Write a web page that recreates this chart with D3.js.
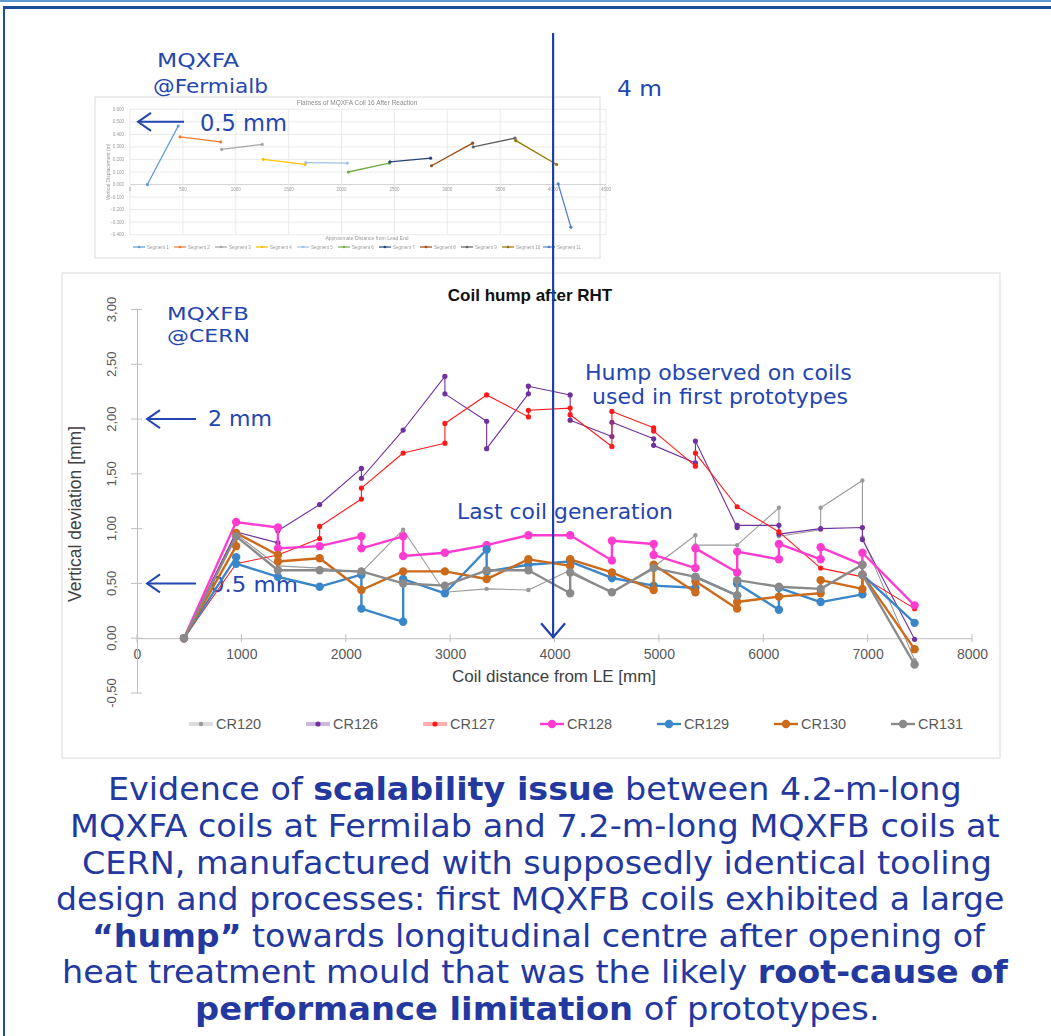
<!DOCTYPE html>
<html>
<head>
<meta charset="utf-8">
<script src="https://cdn.jsdelivr.net/npm/d3@7"></script>
<style>
  body { margin: 0; background: #fff; }
  svg { display: block; }
</style>
</head>
<body>
<svg width="1051" height="1036"></svg>
<script>
// MQXFB coils (CERN) - [distance mm, vertical deviation mm]
const seriesNames = ["CR120", "CR126", "CR127", "CR128", "CR129", "CR130", "CR131"];
const cr120 = [[450,0],[950,0.95],[1350,0.66],[1750,0.64],[2150,0.60],[2550,0.99],[2950,0.42],[3350,0.45],[3750,0.44],[4150,0.62],[4550,0.41],[4950,0.65],[5350,0.94],[5350,0.85],[5750,0.85],[6150,1.19],[6150,0.93],[6550,0.99],[6550,1.19],[6950,1.44],[6950,0.92],[7450,-0.20]];
const cr126 = [[450,0],[950,0.97],[1350,0.87],[1350,0.98],[1750,1.22],[2150,1.55],[2150,1.46],[2550,1.90],[2950,2.39],[2950,2.23],[3350,1.98],[3350,1.73],[3750,2.23],[3750,2.30],[4150,2.22],[4150,1.99],[4550,1.84],[4550,1.97],[4950,1.82],[4950,1.76],[5350,1.60],[5350,1.80],[5750,1.01],[5750,1.03],[6150,1.03],[6150,0.95],[6550,1.00],[6950,1.01],[6950,0.90],[7450,-0.01]];
const cr127 = [[450,0],[950,0.68],[1350,0.76],[1750,0.91],[1750,1.02],[2150,1.27],[2150,1.37],[2550,1.69],[2950,1.78],[2950,1.96],[3350,2.22],[3750,2.02],[3750,2.08],[4150,2.10],[4150,2.04],[4550,1.75],[4550,2.07],[4950,1.92],[4950,1.89],[5350,1.57],[5350,1.69],[5750,1.20],[6150,0.97],[6550,0.64],[6950,0.56],[7450,0.27]];
const cr128 = [[450,0],[950,1.06],[1350,1.01],[1350,0.82],[1750,0.84],[2150,0.93],[2150,0.82],[2550,0.93],[2550,0.75],[2950,0.78],[3350,0.85],[3750,0.94],[4150,0.94],[4550,0.71],[4550,0.89],[4950,0.86],[4950,0.76],[5350,0.64],[5350,0.82],[5750,0.60],[5750,0.79],[6150,0.72],[6150,0.86],[6550,0.72],[6550,0.83],[6950,0.67],[6950,0.78],[7450,0.30]];
const cr129 = [[450,0],[950,0.74],[950,0.68],[1350,0.56],[1750,0.47],[2150,0.58],[2150,0.27],[2550,0.15],[2550,0.54],[2950,0.41],[3350,0.81],[3350,0.61],[3750,0.67],[4150,0.70],[4550,0.55],[4950,0.48],[5350,0.46],[5350,0.56],[5750,0.39],[5750,0.50],[6150,0.26],[6150,0.46],[6550,0.33],[6950,0.40],[6950,0.58],[7450,0.14]];
const cr130 = [[450,0],[950,0.84],[950,0.96],[1350,0.76],[1350,0.70],[1750,0.73],[2150,0.44],[2550,0.61],[2950,0.61],[3350,0.54],[3750,0.72],[4150,0.66],[4150,0.72],[4550,0.60],[4950,0.44],[4950,0.67],[5350,0.42],[5350,0.52],[5750,0.27],[5750,0.33],[6150,0.38],[6550,0.41],[6550,0.53],[6950,0.45],[6950,0.58],[7450,-0.10]];
const cr131 = [[450,0],[950,0.93],[1350,0.62],[1750,0.62],[2150,0.61],[2550,0.50],[2950,0.48],[3350,0.62],[3750,0.62],[4150,0.41],[4150,0.60],[4550,0.42],[4950,0.64],[5350,0.56],[5750,0.39],[5750,0.53],[6150,0.47],[6550,0.45],[6950,0.67],[6950,0.58],[7450,-0.24]];
const xTicks = [0, 1000, 2000, 3000, 4000, 5000, 6000, 7000, 8000];
const yTicks = [-0.5, 0, 0.5, 1, 1.5, 2, 2.5, 3];

// MQXFA inset (Fermilab) - one short segment per measurement section
const faNames = ["Segment 1","Segment 2","Segment 3","Segment 4","Segment 5","Segment 6","Segment 7","Segment 8","Segment 9","Segment 10","Segment 11"];
const faSegments = [
  [[164,0],[456,0.467]],
  [[473,0.38],[857,0.34]],
  [[866,0.28],[1250,0.32]],
  [[1260,0.20],[1654,0.16]],
  [[1663,0.175],[2054,0.17]],
  [[2064,0.10],[2451,0.17]],
  [[2457,0.18],[2842,0.21]],
  [[2851,0.15],[3239,0.33]],
  [[3245,0.30],[3639,0.37]],
  [[3648,0.35],[4033,0.16]],
  [[4048,0.005],[4168,-0.34]]
];
const faXTicks = [0, 500, 1000, 1500, 2000, 2500, 3000, 3500, 4000, 4500];
const faYTicks = [-0.4, -0.3, -0.2, -0.1, 0, 0.1, 0.2, 0.3, 0.4, 0.5, 0.6];

// styles
const colors = ["#9a9a9a", "#7030a0", "#ff1a1a", "#ff3ccf", "#3a86c8", "#cc6a1c", "#8a8a8a"];
const widths = [1.1, 1.1, 1.1, 2.4, 2.4, 2.4, 2.4];
const radii = [2.2, 2.6, 2.6, 4.2, 4.2, 4.2, 4.2];
const faColors = ["#5b9bd5","#ed7d31","#a5a5a5","#ffc000","#9dc3e6","#70ad47","#264478","#9e480e","#636363","#997300","#4f81c0"];
const blue = "#2446b0";

var svg = d3.select("svg");
var allSeries = [cr120, cr126, cr127, cr128, cr129, cr130, cr131];

// page frame
svg.append("rect").attr("x", 0).attr("y", 0).attr("width", 1051).attr("height", 2).attr("fill", "#5d9bd3");
svg.append("rect").attr("x", 3).attr("y", 6).attr("width", 1048).attr("height", 3).attr("fill", "#1b4f9c");
svg.append("rect").attr("x", 3).attr("y", 6).attr("width", 2).attr("height", 1030).attr("fill", "#1b4f9c");

// stretch a text line to a given width
function fitText(parent, parts, x0, baseline, width, size, color, family) {
    var t = parent.append("text")
        .attr("x", 0).attr("y", 0)
        .attr("font-family", family || "DejaVu Sans")
        .attr("font-size", size)
        .attr("fill", color);
    parts.forEach(function(p) {
        t.append("tspan").text(p[0]).attr("font-weight", p[1] ? "bold" : "normal");
    });
    var w = t.node().getComputedTextLength();
    t.attr("transform", "translate(" + x0 + "," + baseline + ") scale(" + (width / w) + ",1)");
    return t;
}

function arrowLeft(parent, x1, x2, y) {
    parent.append("line").attr("x1", x1).attr("x2", x2).attr("y1", y).attr("y2", y)
        .attr("stroke", blue).attr("stroke-width", 2);
    parent.append("path").attr("d", "M" + (x2 + 13) + "," + (y - 9) + "L" + x2 + "," + y + "L" + (x2 + 13) + "," + (y + 9))
        .attr("fill", "none").attr("stroke", blue).attr("stroke-width", 2);
}

// ---------- inset: MQXFA @ Fermilab ----------
var defs = svg.append("defs");
defs.append("filter").attr("id", "soft").append("feGaussianBlur").attr("stdDeviation", 0.55);

var inset = svg.append("g").attr("filter", "url(#soft)");
inset.append("rect").attr("x", 95).attr("y", 97).attr("width", 505).attr("height", 161)
    .attr("fill", "#fff").attr("stroke", "#dcdcdc");

var fx = d3.scaleLinear().domain([0, 4500]).range([130, 606]);
var fy = d3.scaleLinear().domain([-0.4, 0.6]).range([234.7, 109.3]);

inset.selectAll(".hg").data(faYTicks).enter().append("line")
    .attr("x1", fx(0)).attr("x2", fx(4500))
    .attr("y1", d => fy(d)).attr("y2", d => fy(d))
    .attr("stroke", d => d === 0 ? "#c8c8c8" : "#e6e6e6").attr("stroke-width", 0.8);
inset.selectAll(".vg").data(faXTicks).enter().append("line")
    .attr("x1", d => fx(d)).attr("x2", d => fx(d))
    .attr("y1", fy(0.6)).attr("y2", fy(-0.4))
    .attr("stroke", "#e6e6e6").attr("stroke-width", 0.8);
inset.selectAll(".yl").data(faYTicks).enter().append("text")
    .attr("x", 124).attr("y", d => fy(d) + 1.5)
    .attr("text-anchor", "end").attr("font-family", "Liberation Sans").attr("font-size", 4.5)
    .attr("fill", "#9a9a9a").text(d => d3.format(".3f")(d));
inset.selectAll(".xl").data(faXTicks).enter().append("text")
    .attr("x", d => fx(d)).attr("y", fy(0) + 6)
    .attr("text-anchor", "middle").attr("font-family", "Liberation Sans").attr("font-size", 4.5)
    .attr("fill", "#9a9a9a").text(d => d);
inset.append("text").attr("x", 357).attr("y", 105).attr("text-anchor", "middle")
    .attr("font-family", "Liberation Sans").attr("font-size", 6.5).attr("fill", "#8c8c8c")
    .text("Flatness of MQXFA Coil 16 After Reaction");
inset.append("text").attr("x", 367).attr("y", 240).attr("text-anchor", "middle")
    .attr("font-family", "Liberation Sans").attr("font-size", 5).attr("fill", "#9a9a9a")
    .text("Approximate Distance from Lead End");
inset.append("text").attr("transform", "translate(110,172) rotate(-90)").attr("text-anchor", "middle")
    .attr("font-family", "Liberation Sans").attr("font-size", 5).attr("fill", "#9a9a9a")
    .text("Vertical Displacement (in)");

var faLine = d3.line().x(d => fx(d[0])).y(d => fy(d[1]));
faSegments.forEach(function(seg, i) {
    inset.append("path").attr("d", faLine(seg)).attr("fill", "none")
        .attr("stroke", faColors[i]).attr("stroke-width", 1.3);
    inset.selectAll(null).data(seg).enter().append("circle")
        .attr("cx", d => fx(d[0])).attr("cy", d => fy(d[1])).attr("r", 1.6)
        .attr("fill", faColors[i]);
});
faNames.forEach(function(n, i) {
    var lx = 133 + i * 41;
    inset.append("line").attr("x1", lx).attr("x2", lx + 12).attr("y1", 247).attr("y2", 247)
        .attr("stroke", faColors[i]).attr("stroke-width", 1.2);
    inset.append("circle").attr("cx", lx + 6).attr("cy", 247).attr("r", 1.3).attr("fill", faColors[i]);
    inset.append("text").attr("x", lx + 14).attr("y", 248.5)
        .attr("font-family", "Liberation Sans").attr("font-size", 4.5).attr("fill", "#9a9a9a").text(n);
});

// ---------- main chart: MQXFB @ CERN ----------
svg.append("rect").attr("x", 62).attr("y", 273).attr("width", 938).attr("height", 485)
    .attr("fill", "#fff").attr("stroke", "#d9d9d9");

var x = d3.scaleLinear().domain([0, 8000]).range([137, 972]);
var y = d3.scaleLinear().domain([-0.5, 3]).range([693, 309.5]);

var xAxis = svg.append("g").attr("transform", "translate(0," + y(0) + ")")
    .call(d3.axisBottom(x).tickValues(xTicks).tickSize(0).tickPadding(11).tickFormat(d3.format("d")));
xAxis.select(".domain").attr("stroke", "#bfbfbf");
xAxis.selectAll(".xt").data(xTicks).enter().append("line")
    .attr("x1", d => x(d)).attr("x2", d => x(d)).attr("y1", -4).attr("y2", 4).attr("stroke", "#bfbfbf");
xAxis.selectAll("text").attr("font-family", "Liberation Sans").attr("font-size", 14).attr("fill", "#595959");

var yAxis = svg.append("g").attr("transform", "translate(" + x(0) + ",0)")
    .call(d3.axisLeft(y).tickValues(yTicks).tickSize(0).tickFormat(""));
yAxis.select(".domain").attr("stroke", "#bfbfbf");
yAxis.selectAll(".yt").data(yTicks).enter().append("line")
    .attr("x1", -6).attr("x2", 5).attr("y1", d => y(d)).attr("y2", d => y(d)).attr("stroke", "#bfbfbf");
svg.selectAll(".ylab").data(yTicks).enter().append("text")
    .attr("transform", d => "translate(116," + y(d) + ") rotate(-90)")
    .attr("text-anchor", "middle")
    .attr("font-family", "Liberation Sans").attr("font-size", 13).attr("fill", "#595959")
    .text(d => d3.format(".2f")(d).replace(".", ",").replace("−", "-"));

svg.append("text").attr("x", 554).attr("y", 682).attr("text-anchor", "middle")
    .attr("font-family", "Liberation Sans").attr("font-size", 17).attr("fill", "#404040")
    .text("Coil distance from LE [mm]");
svg.append("text").attr("transform", "translate(81,514) rotate(-90)").attr("text-anchor", "middle")
    .attr("font-family", "Liberation Sans").attr("font-size", 17.5).attr("fill", "#404040")
    .text("Vertical deviation [mm]");
svg.append("text").attr("x", 530).attr("y", 301).attr("text-anchor", "middle")
    .attr("font-family", "Liberation Sans").attr("font-size", 17).attr("font-weight", "bold").attr("fill", "#111")
    .text("Coil hump after RHT");

// annotations that sit under the data
var under = svg.append("g");
fitText(under, [["0.5 mm", 0]], 210, 592, 88, 21, blue);
arrowLeft(under, 196, 147, y(0.5));

var line = d3.line().x(d => x(d[0])).y(d => y(d[1]));
allSeries.forEach(function(s, i) {
    var g = svg.append("g");
    g.append("path").attr("d", line(s)).attr("fill", "none")
        .attr("stroke", colors[i]).attr("stroke-width", widths[i]).attr("stroke-linejoin", "round");
    g.selectAll("circle").data(s).enter().append("circle")
        .attr("cx", d => x(d[0])).attr("cy", d => y(d[1])).attr("r", radii[i])
        .attr("fill", colors[i]);
});

// legend
seriesNames.forEach(function(n, i) {
    var lx = 189 + i * 117;
    var lc = i < 3 ? d3.color(colors[i]).copy({opacity: 0.35}) : colors[i];
    svg.append("line").attr("x1", lx).attr("x2", lx + 24).attr("y1", 724).attr("y2", 724)
        .attr("stroke", lc).attr("stroke-width", i < 3 ? 4 : 2.4);
    svg.append("circle").attr("cx", lx + 12).attr("cy", 724).attr("r", radii[i]).attr("fill", colors[i]);
    svg.append("text").attr("x", lx + 27).attr("y", 729)
        .attr("font-family", "Liberation Sans").attr("font-size", 14.5).attr("fill", "#595959").text(n);
});

// ---------- annotations ----------
var ann = svg.append("g");
fitText(ann, [["MQXFA", 0]], 157, 67, 82, 20, blue);
fitText(ann, [["@Fermialb", 0]], 153, 93, 115, 20, blue);
fitText(ann, [["4 m", 0]], 617, 96, 45, 21, blue);
fitText(ann, [["0.5 mm", 0]], 200, 131, 87, 23, blue);
arrowLeft(ann, 184, fx(0) + 8, fy(0.5));
fitText(ann, [["MQXFB", 0]], 167, 320, 82, 18.5, blue);
fitText(ann, [["@CERN", 0]], 167, 342, 83, 18.5, blue);
fitText(ann, [["2 mm", 0]], 208, 426, 64, 21, blue);
arrowLeft(ann, 196, 147, y(2));
fitText(ann, [["Hump observed on coils", 0]], 585, 380, 267, 21, blue);
fitText(ann, [["used in first prototypes", 0]], 592, 404, 256, 21, blue);
fitText(ann, [["Last coil generation", 0]], 457, 519, 216, 21, blue);

// 4 m marker line
ann.append("line").attr("x1", fx(4000)).attr("x2", fx(4000)).attr("y1", 33).attr("y2", y(0) - 1)
    .attr("stroke", "#1f40a8").attr("stroke-width", 2.2);
ann.append("path")
    .attr("d", "M" + (fx(4000) - 12) + "," + (y(0) - 15) + "L" + fx(4000) + "," + (y(0) - 1) + "L" + (fx(4000) + 12) + "," + (y(0) - 15))
    .attr("fill", "none").attr("stroke", "#1f40a8").attr("stroke-width", 2.2);

// ---------- caption ----------
var cap = svg.append("g");
var capColor = "#23399f";
var capLines = [
    [[["Evidence of ", 0], ["scalability issue", 1], [" between 4.2-m-long", 0]], 108, 800, 854],
    [[["MQXFA coils at Fermilab and 7.2-m-long MQXFB coils at", 0]], 70, 837, 930],
    [[["CERN, manufactured with supposedly identical tooling", 0]], 82, 874, 910],
    [[["design and processes: first MQXFB coils exhibited a large", 0]], 56, 910, 949],
    [[["\u201chump\u201d", 1], [" towards longitudinal centre after opening of", 0]], 92, 947, 893],
    [[["heat treatment mould that was the likely ", 0], ["root-cause of", 1]], 62, 983, 946],
    [[["performance limitation", 1], [" of prototypes.", 0]], 195, 1020, 685]
];
capLines.forEach(function(l) {
    fitText(cap, l[0], l[1], l[2], l[3], 32, capColor);
});
</script>
</body>
</html>
